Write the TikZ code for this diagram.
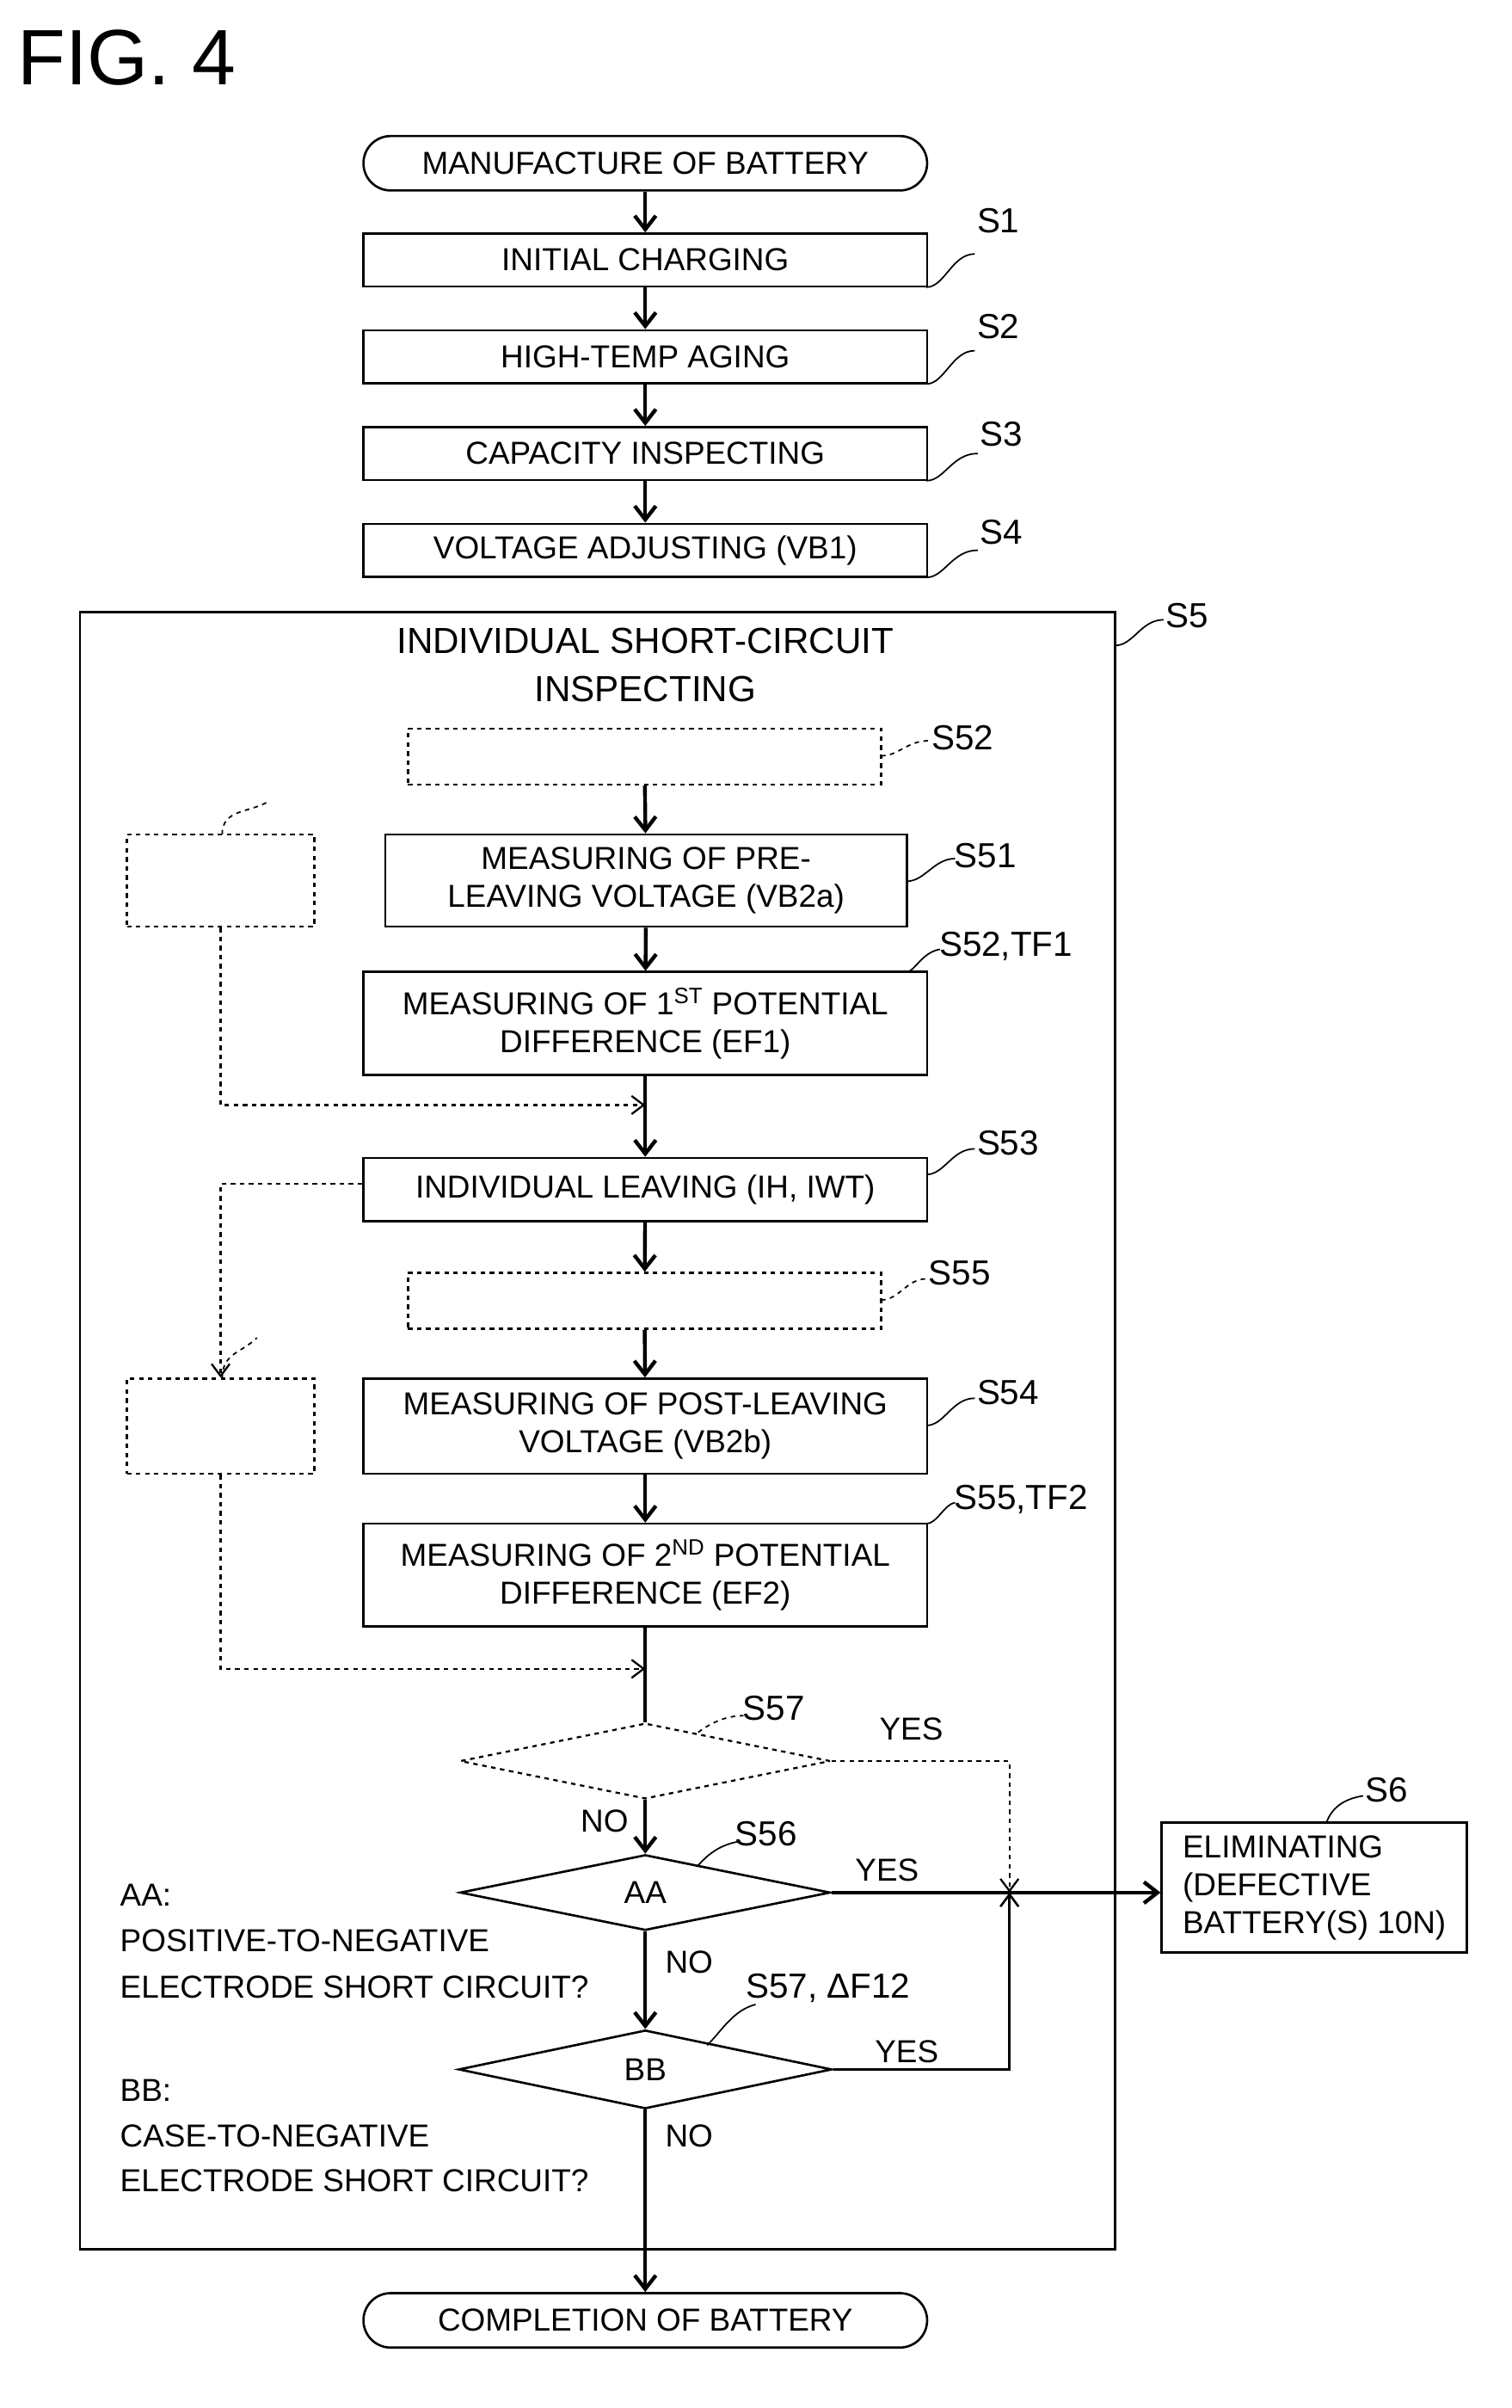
\documentclass[tikz,border=0pt]{standalone}
\usepackage{fontspec}
\setmainfont{Liberation Sans}
\usetikzlibrary{arrows.meta,shapes.geometric}
\begin{document}
\begin{tikzpicture}[x=1pt,y=-1pt,
 every node/.style={font=\fontsize{21}{25}\selectfont},
 box/.style={draw,line width=1.5pt,inner sep=0pt},
 dbox/.style={draw,line width=1.3pt,dashed,inner sep=0pt},
 lab/.style={anchor=west,font=\fontsize{23}{27}\selectfont},
 flow/.style={line width=2.5pt,-{Straight Barb[length=9pt,width=14pt]}},
 dflow/.style={line width=1.3pt,dashed,-{Straight Barb[length=8pt,width=12pt]}},
 sq/.style={line width=1pt}]
\useasboundingbox (0,0) rectangle (1000,1593);
\node[anchor=west,font=\fontsize{52}{56}\selectfont] (fig) at (8,38) {FIG. 4};
% terminals
\node[box,rounded corners=18pt,minimum width=373pt,minimum height=36pt] (start) at (427,108) {MANUFACTURE OF BATTERY};
\node[box,rounded corners=18pt,minimum width=373pt,minimum height=36pt] (end) at (427,1535) {COMPLETION OF BATTERY};
\tikzset{std/.style={box,minimum width=373pt,minimum height=35pt}}
\node[std] (s1) at (427,172) {INITIAL CHARGING};
\node[std] (s2) at (427,236) {HIGH-TEMP AGING};
\node[std] (s3) at (427,300) {CAPACITY INSPECTING};
\node[std] (s4) at (427,364) {VOLTAGE ADJUSTING (VB1)};
\node[box,minimum width=685pt,minimum height=1083pt] (s5) at (395.5,946.5) {};
\node[align=center,font=\fontsize{24}{32}\selectfont] (s5t) at (427,440) {INDIVIDUAL SHORT-CIRCUIT\\INSPECTING};
\node[dbox,minimum width=313pt,minimum height=37pt] (d52) at (426.5,500.5) {};
\node[box,minimum width=345pt,minimum height=61pt,align=center] (s51) at (427.5,582.5) {MEASURING OF PRE-\\LEAVING VOLTAGE (VB2a)};
\node[box,minimum width=373pt,minimum height=68pt,align=center] (s52) at (427,677) {MEASURING OF 1\textsuperscript{ST} POTENTIAL\\DIFFERENCE (EF1)};
\node[dbox,minimum width=124pt,minimum height=61pt] (l52) at (146,582.5) {};
\node[box,minimum width=373pt,minimum height=42pt] (s53) at (427,787) {INDIVIDUAL LEAVING (IH, IWT)};
\node[dbox,minimum width=313pt,minimum height=37pt] (d55) at (426.5,860.5) {};
\node[dbox,minimum width=124pt,minimum height=63pt] (l55) at (146,943.5) {};
\node[box,minimum width=373pt,minimum height=63pt,align=center] (s54) at (427,943.5) {MEASURING OF POST-LEAVING\\VOLTAGE (VB2b)};
\node[box,minimum width=373pt,minimum height=68pt,align=center] (s55) at (427,1042) {MEASURING OF 2\textsuperscript{ND} POTENTIAL\\DIFFERENCE (EF2)};
\node[diamond,draw,dashed,line width=1.3pt,minimum width=245pt,minimum height=50pt,inner sep=0pt,aspect=4.9] (q57) at (427,1165) {};
\node[diamond,draw,line width=1.5pt,minimum width=245pt,minimum height=50pt,inner sep=0pt,aspect=4.9] (aa) at (427,1252) {AA};
\node[diamond,draw,line width=1.5pt,minimum width=247pt,minimum height=52pt,inner sep=0pt,aspect=4.75] (bb) at (427,1369) {BB};
\node[box,minimum width=202pt,minimum height=86pt,align=left,anchor=north west,inner sep=5pt] (s6) at (768,1205) {ELIMINATING\\(DEFECTIVE\\BATTERY(S) 10N)};
\node[anchor=west,align=left,font=\fontsize{21}{30.5}\selectfont] (aat) at (76,1284) {AA:\\POSITIVE-TO-NEGATIVE\\ELECTRODE SHORT CIRCUIT?};
\node[anchor=west,align=left,font=\fontsize{21}{30}\selectfont] (bbt) at (76,1413) {BB:\\CASE-TO-NEGATIVE\\ELECTRODE SHORT CIRCUIT?};
% coordinates
\coordinate (j1) at (427,731);
\coordinate (j2) at (427,1104);
\coordinate (jy) at (668,1252);
% main flow
\draw[flow] (start) -- (s1);
\draw[flow] (s1) -- (s2);
\draw[flow] (s2) -- (s3);
\draw[flow] (s3) -- (s4);
\draw[flow] (d52) -- (s51);
\draw[flow] (s51) -- (s52);
\draw[flow] (s52) -- (s53);
\draw[flow] (s53) -- (d55);
\draw[flow] (d55) -- (s54);
\draw[flow] (s54) -- (s55);
\draw[line width=2.5pt] (s55) -- (q57.north);
\draw[flow] (q57) -- (aa);
\draw[flow] (aa) -- (bb);
\draw[flow] (bb) -- (end);
\draw[flow] (aa.east) -- (s6.west |- aa.east);
\draw[line width=1.5pt,-{Straight Barb[length=8pt,width=12pt]}] (bb.east) -| (jy);
\draw[dflow] (q57.east) -| (jy);
% dashed side paths
\draw[dflow] (l52.south) |- (j1);
\draw[dflow] (s53.west |- 0,783) -| (l55.north);
\draw[dflow] (l55.south) |- (j2);
% labels with squiggles
\foreach \c/\l/\t in {{613,190}/{643,146}/S1,{613,254}/{643,216}/S2,{613,318}/{645,287}/S3,{613,382}/{645,352}/S4,{738,427}/{768,407}/S5,{583,500}/{613,488}/S52,{600,583}/{628,566}/S51,{613,643}/{618,626}/{S52,TF1},{613,777}/{643,756}/S53,{583,860}/{611,842}/S55,{613,943}/{643,921}/S54,{613,1008}/{628,992}/{S55,TF2},{470,1150}/{488,1130}/S57,{470,1236}/{483,1213}/S56,{470,1352}/{490,1315}/{S57, ΔF12},{880,1205}/{900,1184}/S6}
 {\node[lab] at (\l) {\t};}
\draw[sq] (613,190) .. controls (625,190) and (630,168) .. (645,168);
\draw[sq] (613,254) .. controls (625,254) and (630,232) .. (645,232);
\draw[sq] (613,318) .. controls (625,318) and (630,300) .. (647,300);
\draw[sq] (613,382) .. controls (625,382) and (630,364) .. (647,364);
\draw[sq] (738,427) .. controls (750,427) and (755,410) .. (770,410);
\draw[sq,dashed] (583,500) .. controls (595,500) and (600,490) .. (615,490);
\draw[sq] (600,583) .. controls (612,583) and (618,568) .. (632,568);
\draw[sq] (600,643) .. controls (605,643) and (610,630) .. (622,628);
\draw[sq] (613,777) .. controls (625,777) and (630,760) .. (645,760);
\draw[sq,dashed] (583,860) .. controls (595,860) and (600,846) .. (613,846);
\draw[sq] (613,943) .. controls (625,943) and (630,925) .. (645,925);
\draw[sq] (613,1008) .. controls (620,1008) and (625,995) .. (632,994);
\draw[sq,dashed] (147,912) .. controls (147,895) and (160,895) .. (170,885);
\draw[sq,dashed] (147,552) .. controls (147,535) and (165,538) .. (178,530);
\draw[sq,dashed] (462,1146) .. controls (470,1140) and (480,1135) .. (492,1135);
\draw[sq] (462,1234) .. controls (470,1225) and (478,1220) .. (490,1218);
\draw[sq] (468,1353) .. controls (478,1343) and (485,1330) .. (500,1326);
\draw[sq] (878,1205) .. controls (882,1195) and (890,1190) .. (902,1188);
% YES/NO
\node at (603,1144) {YES};
\node at (587,1237) {YES};
\node at (600,1357) {YES};
\node at (400,1205) {NO};
\node at (456,1298) {NO};
\node at (456,1413) {NO};
\end{tikzpicture}
\end{document}
